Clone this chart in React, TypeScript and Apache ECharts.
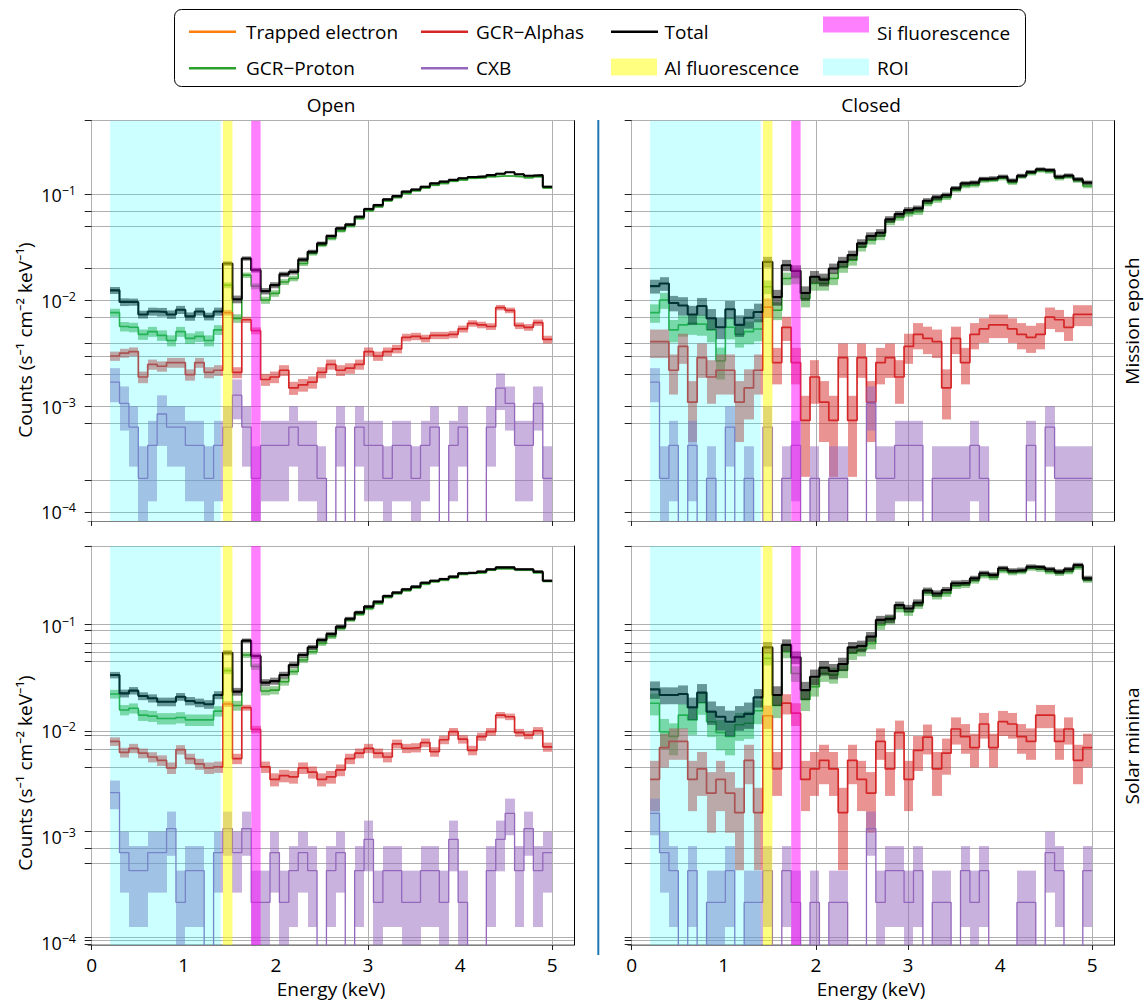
import React, { useEffect, useRef } from "react";
import * as echarts from "echarts";

// ---------- DATA ----------
// Bin edges (keV)
const BIN_EDGES = [0.2, 0.3021, 0.4043, 0.5064, 0.6085, 0.7106, 0.8128, 0.9149, 1.017, 1.1191, 1.2213, 1.3234, 1.4255, 1.5277, 1.6298, 1.7319, 1.834, 1.9362, 2.0383, 2.1404, 2.2426, 2.3447, 2.4468, 2.5489, 2.6511, 2.7532, 2.8553, 2.9574, 3.0596, 3.1617, 3.2638, 3.366, 3.4681, 3.5702, 3.6723, 3.7745, 3.8766, 3.9787, 4.0809, 4.183, 4.2851, 4.3872, 4.4894, 4.5915, 4.6936, 4.7957, 4.8979, 5.0];

// Open / Mission epoch
const OM_TOTAL = [0.0125, 0.0097, 0.0097, 0.0074, 0.0079, 0.0078, 0.0074, 0.0082, 0.0071, 0.0079, 0.0071, 0.0079, 0.0224, 0.0103, 0.025, 0.0194, 0.0123, 0.014, 0.0177, 0.0187, 0.0244, 0.0289, 0.0347, 0.0407, 0.0481, 0.0524, 0.0619, 0.0732, 0.0798, 0.0903, 0.0971, 0.107, 0.112, 0.119, 0.128, 0.133, 0.138, 0.143, 0.147, 0.149, 0.153, 0.158, 0.163, 0.156, 0.151, 0.153, 0.119];
const OM_PROTON = [0.0077, 0.0057, 0.0056, 0.0048, 0.0051, 0.0047, 0.0042, 0.0051, 0.0044, 0.0046, 0.0042, 0.0053, 0.014, 0.0068, 0.0174, 0.0137, 0.0101, 0.0117, 0.015, 0.0162, 0.0224, 0.0279, 0.0334, 0.0386, 0.0456, 0.0506, 0.0597, 0.0706, 0.077, 0.0877, 0.0944, 0.103, 0.109, 0.116, 0.123, 0.128, 0.134, 0.138, 0.143, 0.145, 0.148, 0.15, 0.15, 0.148, 0.145, 0.148, 0.116];
const OM_ALPHA = [0.003, 0.0032, 0.0033, 0.0019, 0.0025, 0.0024, 0.0026, 0.0026, 0.002, 0.0026, 0.0021, 0.0022, 0.0077, 0.0021, 0.0066, 0.0052, 0.0018, 0.0019, 0.0022, 0.0015, 0.0016, 0.0017, 0.0021, 0.0025, 0.0022, 0.0023, 0.0025, 0.0033, 0.003, 0.0033, 0.0035, 0.0045, 0.0046, 0.0044, 0.0047, 0.0047, 0.0048, 0.0054, 0.0061, 0.0059, 0.0057, 0.0086, 0.0081, 0.0058, 0.0056, 0.0062, 0.0043];
const OM_CXB = [1.7e-3, 1.07e-3, 6.4e-4, 2.1e-4, 4.3e-4, 8.5e-4, 6.4e-4, 6.4e-4, 4.3e-4, 4.3e-4, 2.1e-4, 4.3e-4, 6.4e-4, 1.28e-3, 6.4e-4, 2.1e-4, 4.3e-4, 4.3e-4, 4.3e-4, 6.4e-4, 4.3e-4, 4.3e-4, 2.1e-4, 0, 6.4e-4, 0, 6.4e-4, 4.3e-4, 4.3e-4, 2.1e-4, 4.3e-4, 4.3e-4, 2.1e-4, 4.3e-4, 6.4e-4, 0, 4.3e-4, 6.4e-4, 0, 0, 6.4e-4, 1.49e-3, 1.07e-3, 4.3e-4, 4.3e-4, 1.07e-3, 2.1e-4];
const OM_UNITS = [6e-5, 3e-5, 2.13e-4]; // count scale: proton, alphas, CXB

// Closed / Mission epoch
const CM_TOTAL = [0.0137, 0.0145, 0.0095, 0.009, 0.0074, 0.0089, 0.0068, 0.0056, 0.0083, 0.0059, 0.0069, 0.0078, 0.0232, 0.0108, 0.0216, 0.0191, 0.0118, 0.0168, 0.0158, 0.0201, 0.0232, 0.0269, 0.0347, 0.0407, 0.0437, 0.0585, 0.0656, 0.0716, 0.0743, 0.0877, 0.0944, 0.0993, 0.115, 0.128, 0.13, 0.141, 0.143, 0.148, 0.136, 0.151, 0.164, 0.174, 0.171, 0.148, 0.152, 0.14, 0.13];
const CM_PROTON = [0.0077, 0.0101, 0.0053, 0.0059, 0.0061, 0.006, 0.0053, 0.0027, 0.0056, 0.0048, 0.0051, 0.0054, 0.0135, 0.0081, 0.0162, 0.0165, 0.0104, 0.0145, 0.0145, 0.0162, 0.0208, 0.0241, 0.0322, 0.0372, 0.0407, 0.0556, 0.0611, 0.0666, 0.069, 0.0828, 0.0891, 0.0944, 0.111, 0.121, 0.123, 0.136, 0.138, 0.143, 0.13, 0.148, 0.159, 0.169, 0.165, 0.143, 0.148, 0.136, 0.121];
const CM_ALPHA = [0.0041, 0.0041, 0.0022, 0.0037, 0.0011, 0.0029, 0.0019, 0.0022, 0.0022, 0.0011, 0.0015, 0.0022, 0.0087, 0.0026, 0.0056, 0.0026, 0.00074, 0.0019, 0.0011, 0.00074, 0.0029, 0.00074, 0.0029, 0.0011, 0.0026, 0.0029, 0.0019, 0.0037, 0.0048, 0.0044, 0.0041, 0.0015, 0.0044, 0.0026, 0.0048, 0.0054, 0.0059, 0.0059, 0.0054, 0.0048, 0.0045, 0.0048, 0.007, 0.0066, 0.0056, 0.0074, 0.0074];
const CM_CXB = [1.7e-3, 2.1e-4, 4.3e-4, 0, 4.3e-4, 0, 2.1e-4, 0, 6.4e-4, 0, 2.1e-4, 0, 6.4e-4, 0, 2.1e-4, 4.3e-4, 0, 2.1e-4, 0, 2.1e-4, 2.1e-4, 0, 0, 1.07e-3, 2.1e-4, 2.1e-4, 4.3e-4, 4.3e-4, 4.3e-4, 0, 2.1e-4, 2.1e-4, 2.1e-4, 2.1e-4, 4.3e-4, 2.1e-4, 0, 0, 0, 0, 4.3e-4, 0, 6.4e-4, 2.1e-4, 2.1e-4, 2.1e-4, 2.1e-4];
const CM_UNITS = [3e-4, 3.7e-4, 2.13e-4];

// Open / Solar minima
const OS_TOTAL = [0.034, 0.0228, 0.0242, 0.0215, 0.0205, 0.019, 0.019, 0.0212, 0.0193, 0.0186, 0.018, 0.022, 0.0553, 0.0237, 0.0719, 0.0514, 0.0288, 0.0298, 0.034, 0.0423, 0.0526, 0.0621, 0.0729, 0.0831, 0.0975, 0.116, 0.133, 0.151, 0.168, 0.19, 0.205, 0.22, 0.233, 0.254, 0.265, 0.275, 0.29, 0.312, 0.316, 0.323, 0.34, 0.355, 0.355, 0.34, 0.34, 0.323, 0.265];
const OS_PROTON = [0.0225, 0.0159, 0.0165, 0.0142, 0.0139, 0.0132, 0.0132, 0.0135, 0.0128, 0.0128, 0.0128, 0.0155, 0.0374, 0.0175, 0.0526, 0.0409, 0.024, 0.0245, 0.0294, 0.0366, 0.0472, 0.0565, 0.0678, 0.0784, 0.094, 0.113, 0.128, 0.145, 0.162, 0.185, 0.201, 0.214, 0.228, 0.247, 0.26, 0.269, 0.284, 0.305, 0.312, 0.316, 0.335, 0.345, 0.345, 0.335, 0.335, 0.316, 0.262];
const OS_ALPHA = [0.008, 0.0063, 0.0069, 0.0062, 0.0057, 0.0053, 0.0045, 0.0067, 0.0055, 0.0049, 0.0045, 0.0046, 0.0181, 0.0055, 0.0167, 0.0104, 0.0046, 0.0035, 0.0038, 0.0037, 0.0045, 0.0041, 0.0035, 0.0037, 0.0043, 0.0055, 0.0062, 0.0069, 0.0062, 0.0057, 0.0076, 0.0069, 0.007, 0.0078, 0.0064, 0.0083, 0.0099, 0.0084, 0.0066, 0.0089, 0.0099, 0.0142, 0.0137, 0.0097, 0.0092, 0.0101, 0.0071];
const OS_CXB = [2.62e-3, 7.1e-4, 4.8e-4, 4.8e-4, 7.1e-4, 7.1e-4, 1.2e-3, 2.4e-4, 4.8e-4, 4.8e-4, 0, 7.1e-4, 1.2e-3, 7.1e-4, 1.2e-3, 2.4e-4, 2.4e-4, 7.1e-4, 2.4e-4, 4.8e-4, 7.1e-4, 4.8e-4, 0, 4.8e-4, 7.1e-4, 0, 4.8e-4, 9.5e-4, 2.4e-4, 4.8e-4, 4.8e-4, 2.4e-4, 2.4e-4, 4.8e-4, 4.8e-4, 2.4e-4, 9.5e-4, 2.4e-4, 0, 0, 4.8e-4, 9.5e-4, 1.67e-3, 4.8e-4, 1.2e-3, 4.8e-4, 7.1e-4];
const OS_UNITS = [2e-4, 7e-5, 2.4e-4];

// Closed / Solar minima
const CS_TOTAL = [0.0249, 0.022, 0.022, 0.0225, 0.0168, 0.0232, 0.0153, 0.0137, 0.0123, 0.0137, 0.0146, 0.0209, 0.0621, 0.022, 0.0654, 0.05, 0.0245, 0.0328, 0.0399, 0.0371, 0.0433, 0.0621, 0.064, 0.0784, 0.113, 0.116, 0.156, 0.145, 0.164, 0.214, 0.201, 0.217, 0.251, 0.254, 0.279, 0.312, 0.301, 0.348, 0.33, 0.335, 0.36, 0.355, 0.34, 0.323, 0.34, 0.373, 0.279];
const CS_PROTON = [0.0184, 0.0099, 0.0089, 0.0142, 0.0128, 0.0186, 0.0123, 0.0097, 0.0089, 0.0115, 0.0119, 0.0156, 0.0489, 0.0175, 0.0565, 0.0352, 0.02, 0.0264, 0.0352, 0.034, 0.0379, 0.0546, 0.0587, 0.0678, 0.101, 0.113, 0.145, 0.135, 0.156, 0.205, 0.19, 0.201, 0.237, 0.242, 0.265, 0.296, 0.285, 0.33, 0.316, 0.323, 0.348, 0.34, 0.323, 0.312, 0.323, 0.355, 0.27];
const CS_ALPHA = [0.0035, 0.007, 0.008, 0.008, 0.0035, 0.0044, 0.0026, 0.0035, 0.0026, 0.0017, 0.0053, 0.0017, 0.014, 0.0044, 0.0184, 0.0148, 0.0035, 0.0044, 0.0053, 0.0044, 0.0017, 0.0053, 0.0035, 0.0026, 0.008, 0.0044, 0.0097, 0.0035, 0.0066, 0.0088, 0.0044, 0.0062, 0.0105, 0.0089, 0.007, 0.0117, 0.007, 0.0123, 0.0117, 0.0089, 0.008, 0.0142, 0.0142, 0.008, 0.0105, 0.0053, 0.007];
const CS_CXB = [1.67e-3, 7.1e-4, 4.8e-4, 0, 4.8e-4, 0, 2.4e-4, 2.4e-4, 4.8e-4, 0, 2.4e-4, 2.4e-4, 4.8e-4, 0, 4.8e-4, 2.4e-4, 0, 2.4e-4, 0, 2.4e-4, 2.4e-4, 0, 0, 1.2e-3, 2.4e-4, 4.8e-4, 4.8e-4, 2.4e-4, 4.8e-4, 0, 2.4e-4, 2.4e-4, 0, 4.8e-4, 2.4e-4, 4.8e-4, 0, 0, 0, 2.4e-4, 2.4e-4, 0, 7.1e-4, 4.8e-4, 0, 0, 4.8e-4];
const CS_UNITS = [1e-3, 8.7e-4, 2.4e-4];

// Shaded energy ranges (keV)
const ROI_RANGE = [0.2, 1.4];
const AL_RANGE = [1.4255, 1.5277];
const SI_RANGE = [1.7319, 1.834];

// Tick values
const X_LABELS = [0, 1, 2, 3, 4, 5];
const X_GRID_LEFT = [0, 3, 5];
const X_GRID_RIGHT = [0, 2, 3, 5];
const Y_LABELS = [1e-4, 1e-3, 1e-2, 1e-1];
const Y_GRID_TOP = [1e-4, 2e-4, 7e-4, 1e-3, 2e-3, 3e-3, 4e-3, 7e-3, 1e-2, 2e-2, 5e-2, 7e-2, 1e-1, 0.4999];
const Y_GRID_BOTTOM = [9.7e-5, 1.06e-4, 1.12e-4, 5.66e-4, 7.86e-4, 1.12e-3, 4.55e-3, 6.79e-3, 9.08e-3, 1.01e-2, 4.55e-2, 5.61e-2, 6.78e-2, 9.07e-2, 0.1018, 0.5649];
const Y_RANGE_TOP = [8.3e-5, 0.5];
const Y_RANGE_BOTTOM = [9.5e-5, 0.565];

const COL_TITLES = ["Open", "Closed"];
const ROW_TITLES = ["Mission epoch", "Solar minima"];

// ---------- STYLE / LAYOUT ----------
const FONT = "'Open Sans', 'Noto Sans', 'DejaVu Sans', sans-serif";
const GRIDS = [
  { left: 88, top: 120.7, width: 486.3, height: 400.3 },
  { left: 628, top: 120.7, width: 486.3, height: 400.3 },
  { left: 88, top: 546, width: 486.3, height: 399 },
  { left: 628, top: 546, width: 486.3, height: 399 },
];

const PANELS = [
  { total: OM_TOTAL, proton: OM_PROTON, alpha: OM_ALPHA, cxb: OM_CXB, units: OM_UNITS },
  { total: CM_TOTAL, proton: CM_PROTON, alpha: CM_ALPHA, cxb: CM_CXB, units: CM_UNITS },
  { total: OS_TOTAL, proton: OS_PROTON, alpha: OS_ALPHA, cxb: OS_CXB, units: OS_UNITS },
  { total: CS_TOTAL, proton: CS_PROTON, alpha: CS_ALPHA, cxb: CS_CXB, units: CS_UNITS },
];

const COMPS = [
  { key: "proton", name: "GCR−Proton", color: "#2ca02c", band: "rgba(44,160,44,0.5)", width: 1.6 },
  { key: "alpha", name: "GCR−Alphas", color: "#d62728", band: "rgba(214,39,40,0.5)", width: 1.7 },
  { key: "cxb", name: "CXB", color: "#9467bd", band: "rgba(148,103,189,0.5)", width: 1.3 },
  { key: "total", name: "Total", color: "#000000", band: "rgba(0,0,0,0.5)", width: 2.1 },
];

const SPAN_FILLS = ["rgba(0,255,255,0.2)", "rgba(255,255,0,0.5)", "rgba(255,0,255,0.5)"];

function plotVal(v: number) {
  return v > 0 ? v : 1e-9;
}

function stepData(vals: number[]) {
  return BIN_EDGES.map((e, i) => [e, plotVal(vals[Math.min(i, vals.length - 1)])]);
}

function bandData(vals: number[], sig: number[]) {
  const out: number[][] = [];
  vals.forEach((v, i) => {
    const hi = v + sig[i];
    if (!(hi > 0) || !(sig[i] > 0)) return;
    out.push([BIN_EDGES[i], BIN_EDGES[i + 1], Math.max(v - sig[i], 1e-12), hi]);
  });
  return out;
}

function bandRender(fill: string) {
  return (params: any, api: any) => {
    const cs = params.coordSys;
    const a = api.coord([api.value(0), api.value(3)]);
    const b = api.coord([api.value(1), api.value(2)]);
    const x0 = Math.round(a[0]);
    const x1 = Math.round(b[0]);
    const yT = Math.max(a[1], cs.y);
    const yB = Math.min(isFinite(b[1]) ? b[1] : cs.y + cs.height, cs.y + cs.height);
    if (!(yB > yT) || !(x1 > x0)) return null;
    return { type: "rect", shape: { x: x0, y: yT, width: x1 - x0, height: yB - yT }, style: { fill } };
  };
}

function spanRender(params: any, api: any) {
  const cs = params.coordSys;
  const a = api.coord([api.value(0), api.value(2)]);
  const b = api.coord([api.value(1), api.value(2)]);
  return {
    type: "rect",
    shape: { x: a[0], y: cs.y, width: b[0] - a[0], height: cs.height },
    style: { fill: SPAN_FILLS[params.dataIndex] },
  };
}

function buildOption() {
  const xAxis: any[] = [];
  const yAxis: any[] = [];
  const series: any[] = [];

  GRIDS.forEach((_, p) => {
    const col = p % 2;
    const row = Math.floor(p / 2);
    const yr = row === 0 ? Y_RANGE_TOP : Y_RANGE_BOTTOM;
    xAxis.push({
      gridIndex: p,
      type: "value",
      min: -0.04,
      max: 5.24,
      axisLine: { show: true, onZero: false, lineStyle: { color: "#808080", width: 1 } },
      axisTick: { show: true, customValues: col === 0 ? X_GRID_LEFT : X_GRID_RIGHT, length: 5, lineStyle: { color: "#222" } },
      axisLabel: {
        show: row === 1,
        customValues: X_LABELS,
        margin: 10,
        fontSize: 19,
        fontFamily: FONT,
        color: "#000",
        formatter: (v: number) => String(v),
      },
      splitLine: { show: true, lineStyle: { color: "#b0b0b0", width: 1 } },
    });
    yAxis.push({
      gridIndex: p,
      type: "log",
      logBase: 10,
      min: yr[0],
      max: yr[1],
      axisLine: { show: true, lineStyle: { color: "#b0b0b0", width: 1 } },
      axisTick: { show: true, customValues: row === 0 ? Y_GRID_TOP : Y_GRID_BOTTOM, length: 7, lineStyle: { color: "#222" } },
      axisLabel: {
        show: col === 0,
        customValues: Y_LABELS,
        margin: 12,
        formatter: (v: number) => `{b|10}{s|−${Math.round(-Math.log10(v))}}`,
        rich: {
          b: { fontSize: 18, fontFamily: FONT, color: "#000" },
          s: { fontSize: 12.5, fontFamily: FONT, color: "#000", verticalAlign: "top", padding: [0, 0, 9, 0] },
        },
      },
      splitLine: { show: true, lineStyle: { color: "#b0b0b0", width: 1 } },
    });
  });
  // right black spines
  GRIDS.forEach((_, p) => {
    const row = Math.floor(p / 2);
    const yr = row === 0 ? Y_RANGE_TOP : Y_RANGE_BOTTOM;
    yAxis.push({
      gridIndex: p,
      type: "log",
      position: "right",
      min: yr[0],
      max: yr[1],
      axisLine: { show: true, onZero: false, lineStyle: { color: "#000", width: 1 } },
      axisTick: { show: false },
      axisLabel: { show: false },
      splitLine: { show: false },
    });
  });

  PANELS.forEach((pd: any, p) => {
    const [uP, uA, uC] = pd.units;
    const sigP = pd.proton.map((v: number) => Math.sqrt(v * uP));
    const sigA = pd.alpha.map((v: number) => Math.sqrt(v * uA));
    const sigC = pd.cxb.map((v: number) => Math.sqrt(v * uC));
    const sigT = pd.total.map((_: number, i: number) =>
      Math.sqrt(pd.proton[i] * uP + pd.alpha[i] * uA + pd.cxb[i] * uC)
    );
    const sigs: any = { proton: sigP, alpha: sigA, cxb: sigC, total: sigT };
    COMPS.forEach((c, ci) => {
      const vals = pd[c.key];
      series.push({
        type: "custom",
        name: c.name + " band",
        xAxisIndex: p,
        yAxisIndex: p,
        z: 2 + ci * 2,
        silent: true,
        encode: { x: [0, 1], y: [2, 3] },
        data: bandData(vals, sigs[c.key]),
        renderItem: bandRender(c.band),
      });
      series.push({
        type: "line",
        name: c.name,
        xAxisIndex: p,
        yAxisIndex: p,
        z: 3 + ci * 2,
        step: "end",
        showSymbol: false,
        symbol: "none",
        silent: true,
        clip: true,
        data: stepData(vals),
        lineStyle: { color: c.color, width: c.width },
      });
    });
    series.push({
      type: "custom",
      name: "spans",
      xAxisIndex: p,
      yAxisIndex: p,
      z: 20,
      silent: true,
      encode: { x: [0, 1], y: 2 },
      data: [
        [ROI_RANGE[0], ROI_RANGE[1], 0.01],
        [AL_RANGE[0], AL_RANGE[1], 0.01],
        [SI_RANGE[0], SI_RANGE[1], 0.01],
      ],
      renderItem: spanRender,
    });
  });

  const txt = (text: string, x: number, y: number, extra: any = {}) => ({
    type: "text",
    x,
    y,
    silent: true,
    ...extra,
    style: { text, fontSize: 19, fontFamily: FONT, fill: "#000", align: "left", verticalAlign: "middle", ...(extra.style || {}) },
  });

  const legendLine = (x: number, y: number, color: string) => ({
    type: "line",
    silent: true,
    shape: { x1: x, y1: y, x2: x + 47, y2: y },
    style: { stroke: color, lineWidth: 2.6 },
  });
  const legendPatch = (x: number, y: number, h: number, color: string) => ({
    type: "rect",
    silent: true,
    shape: { x, y, width: 46, height: h },
    style: { fill: color },
  });

  const R1 = 31.7;
  const R2 = 68.3;
  const graphic: any[] = [
    { type: "rect", silent: true, shape: { x: 174.5, y: 9.5, width: 851, height: 77, r: 7 }, style: { fill: "#fff", stroke: "#000", lineWidth: 1 } },
    legendLine(189, R1, "#ff7f0e"),
    txt("Trapped electron", 246, R1),
    legendLine(189, R2, "#2ca02c"),
    txt("GCR−Proton", 246, R2),
    legendLine(421, R1, "#d62728"),
    txt("GCR−Alphas", 476, R1),
    legendLine(421, R2, "#9467bd"),
    txt("CXB", 476, R2),
    legendLine(611, R1, "#000000"),
    txt("Total", 664.5, R1),
    legendPatch(611, 58.5, 17, "#ffff80"),
    txt("Al fluorescence", 664.5, R2),
    legendPatch(823, 16.5, 16, "#ff80ff"),
    txt("Si fluorescence", 877, R1 + 1),
    legendPatch(823, 58.5, 17, "#ccffff"),
    txt("ROI", 877, R2),
    // column titles
    txt(COL_TITLES[0], 331, 105, { style: { align: "center" } }),
    txt(COL_TITLES[1], 871, 105, { style: { align: "center" } }),
    // row labels
    txt(ROW_TITLES[0], 1132, 321, { rotation: Math.PI / 2, style: { align: "center" } }),
    txt(ROW_TITLES[1], 1132, 746, { rotation: Math.PI / 2, style: { align: "center" } }),
    // y labels
    txt("Counts (s⁻¹ cm⁻² keV⁻¹)", 25, 340, { rotation: Math.PI / 2, style: { align: "center" } }),
    txt("Counts (s⁻¹ cm⁻² keV⁻¹)", 25, 773, { rotation: Math.PI / 2, style: { align: "center" } }),
    // x labels
    txt("Energy (keV)", 331, 989, { style: { align: "center" } }),
    txt("Energy (keV)", 871, 989, { style: { align: "center" } }),
    // divider
    { type: "line", silent: true, shape: { x1: 598.3, y1: 120, x2: 598.3, y2: 955 }, style: { stroke: "#1f77b4", lineWidth: 2 } },
  ];

  return {
    animation: false,
    backgroundColor: "#ffffff",
    textStyle: { fontFamily: FONT },
    grid: GRIDS.map((g) => ({ ...g, containLabel: false })),
    xAxis,
    yAxis,
    series,
    graphic,
  };
}

export default function App() {
  const ref = useRef<HTMLDivElement>(null);
  useEffect(() => {
    if (!ref.current) return;
    const chart = echarts.init(ref.current, undefined, { renderer: "svg" });
    chart.setOption(buildOption() as any);
    return () => chart.dispose();
  }, []);
  return (
    <div
      ref={ref}
      style={{ position: "fixed", left: 0, top: 0, width: 1145, height: 1003, background: "#fff" }}
    />
  );
}
